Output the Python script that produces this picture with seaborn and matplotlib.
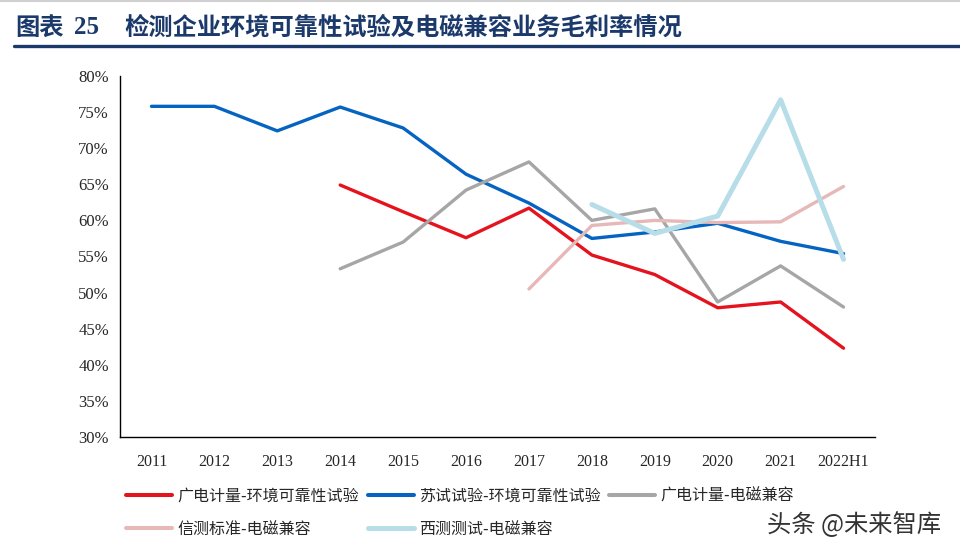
import numpy as np
import pandas as pd
import matplotlib
matplotlib.use("Agg")
import matplotlib.pyplot as plt
import seaborn as sns
from matplotlib.lines import Line2D

# categories and gross margin series (%), NaN = no data
years = ["2011", "2012", "2013", "2014", "2015", "2016", "2017", "2018", "2019", "2020", "2021", "2022H1"]
gdjl_env = [np.nan, np.nan, np.nan, 64.9, 61.2, 57.6, 61.7, 55.2, 52.5, 47.9, 48.7, 42.3]
sssy_env = [75.8, 75.8, 72.4, 75.7, 72.8, 66.4, 62.4, 57.5, 58.4, 59.6, 57.1, 55.4]
gdjl_emc = [np.nan, np.nan, np.nan, 53.3, 57.0, 64.2, 68.1, 60.0, 61.6, 48.7, 53.7, 48.0]
xcbz_emc = [np.nan, np.nan, np.nan, np.nan, np.nan, np.nan, 50.5, 59.3, 60.0, 59.7, 59.8, 64.7]
xcte_emc = [np.nan, np.nan, np.nan, np.nan, np.nan, np.nan, np.nan, 62.2, 58.2, 60.6, 76.7, 54.6]

series_names = ["广电计量-环境可靠性试验", "苏试试验-环境可靠性试验", "广电计量-电磁兼容",
                "信测标准-电磁兼容", "西测测试-电磁兼容"]
series_vals = [gdjl_env, sssy_env, gdjl_emc, xcbz_emc, xcte_emc]
colors = ["#E5131D", "#0563C1", "#A6A6A6", "#E6B8B7", "#B7DDE8"]
widths = [2.4, 2.4, 2.4, 2.4, 3.6]

sns.set_style("white")
plt.rcParams['font.family'] = ['Noto Sans CJK SC', 'DejaVu Sans']

W, H = 960, 552
fig = plt.figure(figsize=(W / 100, H / 100), dpi=100)
ax = fig.add_axes([120 / W, 1 - 437 / H, 755 / W, 361 / H])

handles = {}
for name, vals, c, lw in zip(series_names, series_vals, colors, widths):
    df = pd.DataFrame({"x": np.arange(len(years)), "y": vals}).dropna()
    sns.lineplot(data=df, x="x", y="y", color=c, linewidth=lw, ax=ax, legend=False)
    handles[name] = Line2D([], [], color=c, linewidth=max(lw, 2.9))

ax.set_xlim(-0.5, len(years) - 0.5)
ax.set_ylim(30, 80)
ax.set_yticks(np.arange(30, 81, 5))
ax.set_yticklabels([f"{v}%" for v in range(30, 81, 5)], family="Liberation Serif", fontsize=12)
ax.set_xticks(np.arange(len(years)))
ax.set_xticklabels(years, family="Liberation Serif", fontsize=11.5)
ax.set_xticks(np.arange(-0.5, len(years)), minor=True)
ax.tick_params(axis="x", which="major", length=0, pad=12)
ax.tick_params(axis="x", which="minor", length=5, width=1, direction="out", color="black")
ax.tick_params(axis="y", length=5, width=1, direction="out", color="black", pad=3)
ax.set_xlabel("")
ax.set_ylabel("")
for s in ["top", "right"]:
    ax.spines[s].set_visible(False)
for s in ["left", "bottom"]:
    ax.spines[s].set_color("black")
    ax.spines[s].set_linewidth(1)

# legend, row-major order for 3 columns
order = [0, 3, 1, 4, 2]
leg = fig.legend([handles[series_names[i]] for i in order], [series_names[i] for i in order],
                 ncol=3, loc="upper left", bbox_to_anchor=(126 / W, 1 - 488 / H),
                 frameon=False, fontsize=11.5, handlelength=2.9, handletextpad=0.3,
                 columnspacing=0.55, labelspacing=1.0, borderaxespad=0, borderpad=0)

# title
navy = "#1B3A6B"
ty = 1 - 28 / H
fig.text(15 / W, ty, "图表", color=navy, fontsize=17.5, fontweight="bold", va="center")
fig.text(74 / W, ty, "25", color=navy, fontsize=18, fontweight="bold", va="center",
         family="Liberation Serif")
fig.text(124 / W, ty, "检测企业环境可靠性试验及电磁兼容业务毛利率情况", color=navy,
         fontsize=17.5, fontweight="bold", va="center")
fig.add_artist(Line2D([14 / W, 1], [1 - 46 / H, 1 - 46 / H], color=navy, linewidth=2.4,
                      transform=fig.transFigure))
fig.add_artist(Line2D([0, 1], [1 - 1 / H, 1 - 1 / H], color="#D0D0D0", linewidth=1.5,
                      transform=fig.transFigure))

# watermark
fig.text(767 / W, 1 - 525 / H, "头条 @未来智库", color="#333333", fontsize=17.5, va="center")

fig.savefig("out.png", dpi=100)
